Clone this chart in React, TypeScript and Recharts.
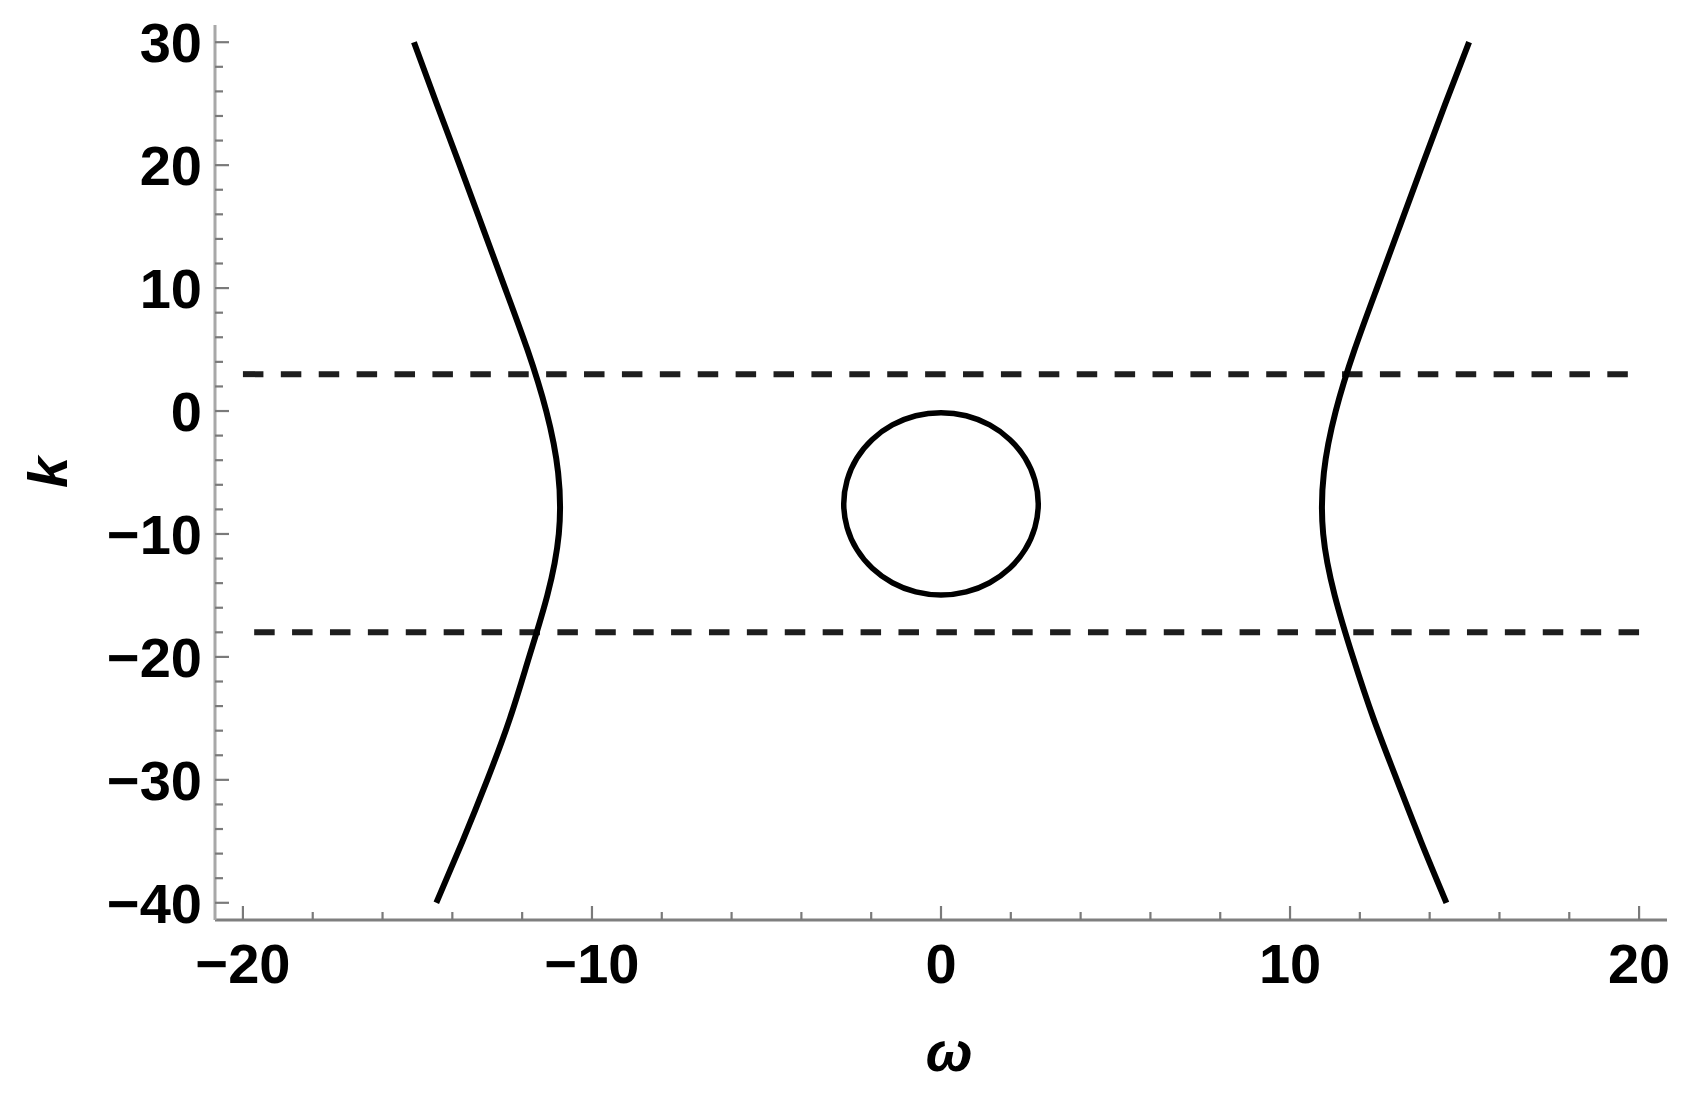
import React from 'react';
import { LineChart, Line, XAxis, YAxis, Label } from 'recharts';

// frame ticks, every 2 units; labelled every 10
const omegaTicks = [-20, -18, -16, -14, -12, -10, -8, -6, -4, -2, 0, 2, 4, 6, 8, 10, 12, 14, 16, 18, 20];
const kTicks = [
  -40, -38, -36, -34, -32, -30, -28, -26, -24, -22, -20, -18, -16, -14, -12, -10, -8, -6, -4, -2,
  0, 2, 4, 6, 8, 10, 12, 14, 16, 18, 20, 22, 24, 26, 28, 30,
];
const omegaDomain = [-20.8, 20.8];
const kDomain = [-41.4, 31.4];

// outer curves every 5 units of k (top to bottom)
const branchK = [30, 25, 20, 15, 10, 5, 0, -5, -10, -15, -20, -25, -30, -35, -40];
const leftOmega = [-15.1, -14.45, -13.79, -13.14, -12.49, -11.85, -11.31, -10.97, -10.95, -11.28, -11.8, -12.35, -13.0, -13.71, -14.46];
const rightOmega = [15.13, 14.45, 13.79, 13.14, 12.49, 11.85, 11.31, 10.97, 10.95, 11.28, 11.8, 12.39, 13.06, 13.75, 14.48];

const leftBranch = branchK.map((k, i) => ({ w: leftOmega[i], k }));
const rightBranch = branchK.map((k, i) => ({ w: rightOmega[i], k }));

// closed loop around (0, -7.55)
const loop = [
  { w: 2.82, k: -7.55 },
  { w: 2.72, k: -5.61 },
  { w: 2.44, k: -3.8 },
  { w: 1.99, k: -2.25 },
  { w: 1.41, k: -1.06 },
  { w: 0.73, k: -0.3 },
  { w: 0, k: -0.05 },
  { w: -0.73, k: -0.3 },
  { w: -1.41, k: -1.06 },
  { w: -1.99, k: -2.25 },
  { w: -2.44, k: -3.8 },
  { w: -2.72, k: -5.61 },
  { w: -2.82, k: -7.55 },
  { w: -2.72, k: -9.49 },
  { w: -2.44, k: -11.3 },
  { w: -1.99, k: -12.85 },
  { w: -1.41, k: -14.04 },
  { w: -0.73, k: -14.8 },
  { w: 0, k: -15.05 },
  { w: 0.73, k: -14.8 },
  { w: 1.41, k: -14.04 },
  { w: 1.99, k: -12.85 },
  { w: 2.44, k: -11.3 },
  { w: 2.72, k: -9.49 },
];

// dashed levels (the lower one is drawn right to left)
const upperLevel = [
  { w: -20, k: 3 },
  { w: 20, k: 3 },
];
const lowerLevel = [
  { w: 20, k: -18 },
  { w: -20, k: -18 },
];

const FONT = '"Liberation Sans", Arial, Helvetica, sans-serif';
const FRAME_LIGHT = '#a8a8a8';
const FRAME_DARK = '#7f7f7f';
const TICK = '#7a7a7a';
const DASH = '20.5 17.4';

const fmt = (v: number) => (v < 0 ? `\u2212${Math.abs(v)}` : `${v}`);
const isMajor = (v: number) => v % 10 === 0;

const labelStyle = {
  fontFamily: FONT,
  fontSize: 56,
  fontWeight: 700,
  fill: '#000',
};

const makeTick = (side: 'bottom' | 'top' | 'left' | 'right') => (props: any) => {
  const { x, y, payload } = props;
  const v = payload.value as number;
  const major = isMajor(v);
  const len = major ? 14 : 8;
  if (side === 'bottom') {
    return (
      <g>
        <line x1={x} y1={y} x2={x} y2={y - len} stroke={TICK} strokeWidth={2.2} />
        {major && (
          <text x={x} y={y + 63} textAnchor="middle" {...labelStyle}>
            {fmt(v)}
          </text>
        )}
      </g>
    );
  }
  if (side === 'top') {
    return <line x1={x} y1={y} x2={x} y2={y + len} stroke={TICK} strokeWidth={2.2} />;
  }
  if (side === 'left') {
    return (
      <g>
        <line x1={x} y1={y} x2={x + len} y2={y} stroke={TICK} strokeWidth={2.2} />
        {major && (
          <text x={x - 13} y={y + 20} textAnchor="end" {...labelStyle}>
            {fmt(v)}
          </text>
        )}
      </g>
    );
  }
  return <line x1={x} y1={y} x2={x - len} y2={y} stroke={TICK} strokeWidth={2.2} />;
};

const OmegaLabel = (props: any) => {
  const vb = props.viewBox || { x: 215, y: 920, width: 1452, height: 179 };
  return (
    <text x={vb.x + vb.width / 2 + 8} y={vb.y + 151} textAnchor="middle" {...labelStyle} fontStyle="italic">
      ω
    </text>
  );
};

const KLabel = (props: any) => {
  const vb = props.viewBox || { x: 0, y: 25, width: 215, height: 895 };
  const cx = vb.x + 67;
  const cy = vb.y + vb.height / 2;
  return (
    <text
      x={cx}
      y={cy}
      textAnchor="middle"
      transform={`rotate(-90, ${cx}, ${cy})`}
      {...labelStyle}
      fontStyle="italic"
    >
      k
    </text>
  );
};

export default function App() {
  return (
    <div style={{ position: 'absolute', left: 0, top: 0, background: '#fff' }}>
      <LineChart width={1691} height={1099} margin={{ top: 25, right: 24, left: 0, bottom: 0 }}>
        <XAxis
          xAxisId="b"
          type="number"
          dataKey="w"
          orientation="bottom"
          domain={omegaDomain}
          ticks={omegaTicks}
          interval={0}
          allowDataOverflow
          height={179}
          tickSize={0}
          tickMargin={0}
          axisLine={{ stroke: FRAME_DARK, strokeWidth: 3 }}
          tickLine={false}
          tick={makeTick('bottom')}
        >
          <Label content={<OmegaLabel />} />
        </XAxis>
        <XAxis
          xAxisId="t"
          type="number"
          dataKey="w"
          orientation="top"
          domain={omegaDomain}
          ticks={omegaTicks}
          interval={0}
          allowDataOverflow
          height={0}
          tickSize={0}
          tickMargin={0}
          axisLine={{ stroke: FRAME_LIGHT, strokeWidth: 3 }}
          tickLine={false}
          tick={makeTick('top')}
        />
        <YAxis
          yAxisId="l"
          type="number"
          dataKey="k"
          orientation="left"
          domain={kDomain}
          ticks={kTicks}
          interval={0}
          allowDataOverflow
          width={215}
          tickSize={0}
          tickMargin={0}
          axisLine={{ stroke: FRAME_LIGHT, strokeWidth: 3 }}
          tickLine={false}
          tick={makeTick('left')}
        >
          <Label content={<KLabel />} />
        </YAxis>
        <YAxis
          yAxisId="r"
          type="number"
          dataKey="k"
          orientation="right"
          domain={kDomain}
          ticks={kTicks}
          interval={0}
          allowDataOverflow
          width={0}
          tickSize={0}
          tickMargin={0}
          axisLine={{ stroke: FRAME_DARK, strokeWidth: 3 }}
          tickLine={false}
          tick={makeTick('right')}
        />

        <Line
          xAxisId="b"
          yAxisId="l"
          data={upperLevel}
          dataKey="k"
          type="linear"
          stroke="#1e1e1e"
          strokeWidth={6}
          strokeDasharray={DASH}
          dot={false}
          activeDot={false}
          isAnimationActive={false}
        />
        <Line
          xAxisId="b"
          yAxisId="l"
          data={lowerLevel}
          dataKey="k"
          type="linear"
          stroke="#1e1e1e"
          strokeWidth={6}
          strokeDasharray={DASH}
          dot={false}
          activeDot={false}
          isAnimationActive={false}
        />
        <Line
          xAxisId="b"
          yAxisId="l"
          data={leftBranch}
          dataKey="k"
          type="natural"
          stroke="#000"
          strokeWidth={6}
          dot={false}
          activeDot={false}
          isAnimationActive={false}
        />
        <Line
          xAxisId="b"
          yAxisId="l"
          data={rightBranch}
          dataKey="k"
          type="natural"
          stroke="#000"
          strokeWidth={6}
          dot={false}
          activeDot={false}
          isAnimationActive={false}
        />
        <Line
          xAxisId="b"
          yAxisId="l"
          data={loop}
          dataKey="k"
          type="basisClosed"
          stroke="#000"
          strokeWidth={5.5}
          dot={false}
          activeDot={false}
          isAnimationActive={false}
        />
      </LineChart>
    </div>
  );
}
